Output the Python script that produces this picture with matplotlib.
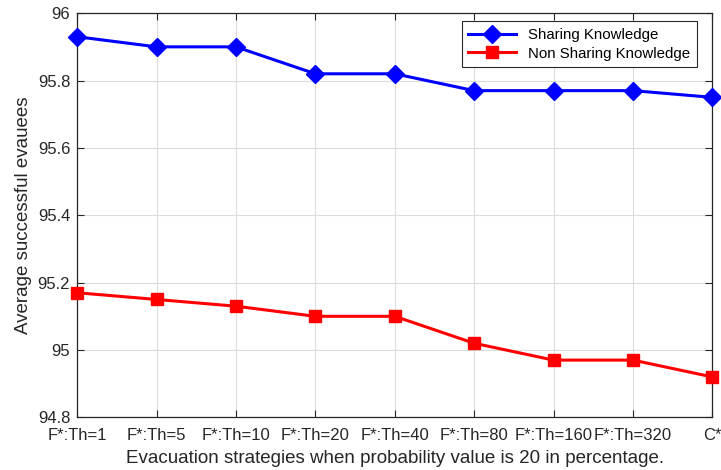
import matplotlib
matplotlib.use("Agg")
import matplotlib.pyplot as plt

# dati
strategies = ["F*:Th=1", "F*:Th=5", "F*:Th=10", "F*:Th=20", "F*:Th=40",
              "F*:Th=80", "F*:Th=160", "F*:Th=320", "C*"]
sharing = [95.93, 95.90, 95.90, 95.82, 95.82, 95.77, 95.77, 95.77, 95.75]
non_sharing = [95.17, 95.15, 95.13, 95.10, 95.10, 95.02, 94.97, 94.97, 94.92]
yticks = [94.8, 95, 95.2, 95.4, 95.6, 95.8, 96]
ytick_labels = ["94.8", "95", "95.2", "95.4", "95.6", "95.8", "96"]

plt.rcParams["font.family"] = ["Liberation Sans", "DejaVu Sans"]
axis_col = "#262626"

fig = plt.figure(figsize=(7.21, 4.70), dpi=100)
ax = fig.add_axes([0.107, 0.112, 0.881, 0.860])

x = list(range(len(strategies)))
ax.plot(x, sharing, color="blue", lw=2.2, marker="D", ms=9,
        label="Sharing Knowledge", clip_on=False, zorder=3)
ax.plot(x, non_sharing, color="red", lw=2.2, marker="s", ms=8.5,
        label="Non Sharing Knowledge", clip_on=False, zorder=3)

ax.set_xlim(0, len(strategies) - 1)
ax.set_ylim(94.8, 96)
ax.set_xticks(x)
ax.set_xticklabels(strategies)
ax.set_yticks(yticks)
ax.set_yticklabels(ytick_labels)

ax.grid(True, color="#dcdcdc", lw=0.8)
ax.set_axisbelow(True)
ax.tick_params(direction="in", length=5, colors=axis_col, labelsize=12,
               top=True, right=True, labelcolor=axis_col)
ax.tick_params(axis="x", pad=8)
ax.tick_params(axis="y", pad=5)
for s in ax.spines.values():
    s.set_color(axis_col)
    s.set_linewidth(0.9)

ax.set_xlabel("Evacuation strategies when probability value is 20 in percentage.",
              fontsize=13.5, color=axis_col, labelpad=5)
ax.set_ylabel("Average successful evauees", fontsize=13.5, color=axis_col, labelpad=4)

leg = ax.legend(loc="upper right", bbox_to_anchor=(0.988, 0.998), fontsize=10.8,
                fancybox=False, framealpha=1, edgecolor=axis_col,
                handlelength=3.2, borderpad=0.45, labelspacing=0.3)
leg.get_frame().set_linewidth(0.8)

fig.savefig("out.png", dpi=100)
